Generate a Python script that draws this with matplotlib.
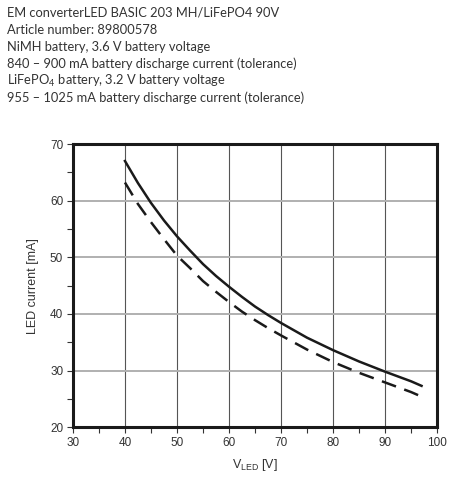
import numpy as np
import matplotlib.pyplot as plt

# LED-Spannung [V] und LED-Strom [mA]
v_led = [40, 42.5, 45, 47.5, 50, 52.5, 55, 57.5, 60, 62.5, 65, 67.5, 70, 75, 80, 85, 90, 95, 97]
i_nimh = [67.0, 63.1, 59.6, 56.5, 53.7, 51.2, 48.8, 46.7, 44.8, 43.0, 41.3, 39.8, 38.4,
          35.8, 33.6, 31.6, 29.8, 28.1, 27.3]
i_lifepo = [63.2, 59.4, 56.2, 53.2, 50.3, 48.1, 45.8, 43.9, 42.1, 40.4, 38.9, 37.5, 36.2,
            33.7, 31.5, 29.6, 27.9, 26.2, 25.4]

header = [
    'EM converterLED BASIC 203 MH/LiFePO4 90V',
    'Article number: 89800578',
    'NiMH battery, 3.6 V battery voltage',
    '840 – 900 mA battery discharge current (tolerance)',
    'LiFePO$_4$ battery, 3.2 V battery voltage',
    '955 – 1025 mA battery discharge current (tolerance)',
]

plt.rcParams['mathtext.default'] = 'regular'
fig = plt.figure(figsize=(4.53, 4.8), dpi=100)
ax = fig.add_axes([0.161, 0.110, 0.804, 0.590])

for k, line in enumerate(header):
    fig.text(0.015, 0.973 - k * 0.0355, line, fontsize=9.3, family='Lato',
             color='#333333', va='center', ha='left')

ax.plot(v_led, i_nimh, color='#1a1a1a', lw=1.8)
ax.plot(v_led, i_lifepo, color='#1a1a1a', lw=1.8, dashes=(6, 3.5))

ax.set_xlim(30, 100)
ax.set_ylim(20, 70)
ax.set_xticks(range(30, 101, 10))
ax.set_yticks(range(20, 71, 10))
ax.set_xticks(range(35, 100, 10), minor=True)
ax.set_yticks(range(25, 70, 10), minor=True)

for x in range(40, 100, 10):
    ax.axvline(x, color='#555555', lw=0.8, zorder=0)
for y in range(30, 70, 10):
    ax.axhline(y, color='#b0b0b0', lw=1.4, zorder=0)

for s in ax.spines.values():
    s.set_linewidth(2.2)
    s.set_color('#1a1a1a')

ax.tick_params(which='both', direction='out', length=4, width=0.8, color='#333333')
ax.tick_params(labelsize=8.5, labelcolor='#333333', pad=3)
for lab in ax.get_xticklabels() + ax.get_yticklabels():
    lab.set_family('Liberation Sans')

ax.set_ylabel('LED current [mA]', fontsize=9, family='Liberation Sans', color='#333333', labelpad=8)
ax.set_xlabel('V$_{LED}$ [V]', fontsize=9, family='Liberation Sans', color='#333333', labelpad=6)

fig.savefig('out.png', dpi=100)
